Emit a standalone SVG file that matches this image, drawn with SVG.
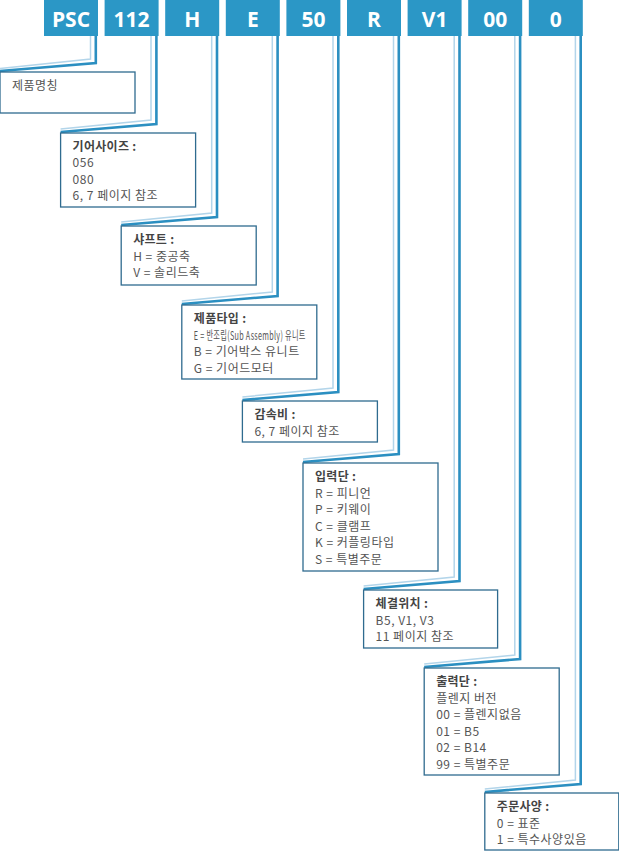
<svg xmlns="http://www.w3.org/2000/svg" width="619" height="852" viewBox="0 0 619 852">
<style>
.hdr rect{fill:#2b97c6}
.hdr text{fill:#fff;font-family:"Open Sans","Liberation Sans",sans-serif;font-weight:bold;font-size:21px;text-anchor:middle}
.lt{fill:none;stroke:#b3d5ea;stroke-width:1.5}
.bl{fill:none;stroke:#2b8fc1;stroke-width:2.6}
.box rect{fill:#fff;stroke:#2f6b8f;stroke-width:1.3}
.box text{font-family:"Noto Sans CJK KR","Liberation Sans",sans-serif;font-size:12px;letter-spacing:0.5px;fill:#555}
.box text.t{font-weight:bold;fill:#444;letter-spacing:0.3px}
</style>
<rect width="619" height="852" fill="#fff"/>
<g id="headers" class="hdr">
<g id="h-psc"><rect x="44" y="0" width="54" height="36"/><text x="71" y="27">PSC</text></g>
<g id="h-112"><rect x="104.6" y="0" width="54" height="36"/><text x="131.6" y="27">112</text></g>
<g id="h-h"><rect x="165.2" y="0" width="54" height="36"/><text x="192.2" y="27">H</text></g>
<g id="h-e"><rect x="225.8" y="0" width="54" height="36"/><text x="252.8" y="27">E</text></g>
<g id="h-50"><rect x="286.4" y="0" width="54" height="36"/><text x="313.4" y="27">50</text></g>
<g id="h-r"><rect x="347" y="0" width="54" height="36"/><text x="374" y="27">R</text></g>
<g id="h-v1"><rect x="407.6" y="0" width="54" height="36"/><text x="434.6" y="27">V1</text></g>
<g id="h-00"><rect x="468.2" y="0" width="54" height="36"/><text x="495.2" y="27">00</text></g>
<g id="h-0"><rect x="528.8" y="0" width="54" height="36"/><text x="555.8" y="27">0</text></g>
</g>
<g id="connectors">
<polyline class="lt" points="90.5,36 90.5,59 0,68.5"/>
<polyline class="bl" points="95.8,36 95.8,63 0,71"/>
<polyline class="lt" points="151,36 151,120 60.6,129"/>
<polyline class="bl" points="156.4,36 156.4,124 60.6,132"/>
<polyline class="lt" points="211.7,36 211.7,213 121.2,222"/>
<polyline class="bl" points="217,36 217,217 121.2,225"/>
<polyline class="lt" points="272.3,36 272.3,292 181.8,301"/>
<polyline class="bl" points="277.6,36 277.6,296 181.8,304"/>
<polyline class="lt" points="333,36 333,388 242.4,397"/>
<polyline class="bl" points="338.3,36 338.3,392 242.4,400"/>
<polyline class="lt" points="393.5,36 393.5,450 303,459"/>
<polyline class="bl" points="398.8,36 398.8,454 303,462"/>
<polyline class="lt" points="454.2,36 454.2,577 363.6,586"/>
<polyline class="bl" points="459.5,36 459.5,581 363.6,589"/>
<polyline class="lt" points="514.8,36 514.8,655 424.2,664"/>
<polyline class="bl" points="520.1,36 520.1,659 424.2,667"/>
<polyline class="lt" points="575.4,36 575.4,780 484.8,789"/>
<polyline class="bl" points="580.7,36 580.7,784 484.8,792"/>
</g>
<g id="box-name" class="box"><rect x="0" y="72" width="135" height="41"/><text x="12" y="90">제품명칭</text></g>
<g id="box-gear" class="box"><rect x="60.6" y="133" width="135" height="74"/>
<text class="t" x="72.6" y="151">기어사이즈 :</text>
<text x="72.6" y="167">056</text>
<text x="72.6" y="183.5">080</text>
<text x="72.6" y="200">6, 7 페이지 참조</text></g>
<g id="box-shaft" class="box"><rect x="121.2" y="226" width="135" height="59"/>
<text class="t" x="133.2" y="244">샤프트 :</text>
<text x="133.2" y="260.5">H = 중공축</text>
<text x="133.2" y="277">V = 솔리드축</text></g>
<g id="box-type" class="box"><rect x="181.8" y="305" width="135" height="74"/>
<text class="t" x="193.8" y="323">제품타입 :</text>
<text x="193.8" y="339.5" textLength="112" lengthAdjust="spacingAndGlyphs">E = 반조립(Sub Assembly) 유니트</text>
<text x="193.8" y="356">B = 기어박스 유니트</text>
<text x="193.8" y="372.5">G = 기어드모터</text></g>
<g id="box-ratio" class="box"><rect x="242.4" y="401" width="135" height="41"/>
<text class="t" x="254.4" y="419">감속비 :</text>
<text x="254.4" y="435.5">6, 7 페이지 참조</text></g>
<g id="box-input" class="box"><rect x="303" y="463" width="135" height="108"/>
<text class="t" x="315" y="481">입력단 :</text>
<text x="315" y="497.5">R = 피니언</text>
<text x="315" y="514">P = 키웨이</text>
<text x="315" y="530.5">C = 클램프</text>
<text x="315" y="547">K = 커플링타입</text>
<text x="315" y="563.5">S = 특별주문</text></g>
<g id="box-mount" class="box"><rect x="363.6" y="590" width="134" height="58"/>
<text class="t" x="375.6" y="608">체결위치 :</text>
<text x="375.6" y="624.5">B5, V1, V3</text>
<text x="375.6" y="641">11 페이지 참조</text></g>
<g id="box-output" class="box"><rect x="424.2" y="668" width="135" height="107"/>
<text class="t" x="436.2" y="686">출력단 :</text>
<text x="436.2" y="702.5">플렌지 버전</text>
<text x="436.2" y="719">00 = 플렌지없음</text>
<text x="436.2" y="735.5">01 = B5</text>
<text x="436.2" y="752">02 = B14</text>
<text x="436.2" y="768.5">99 = 특별주문</text></g>
<g id="box-order" class="box"><rect x="484.8" y="793" width="134" height="57"/>
<text class="t" x="496.8" y="811">주문사양 :</text>
<text x="496.8" y="827.5">0 = 표준</text>
<text x="496.8" y="844">1 = 특수사양있음</text></g>
</svg>
